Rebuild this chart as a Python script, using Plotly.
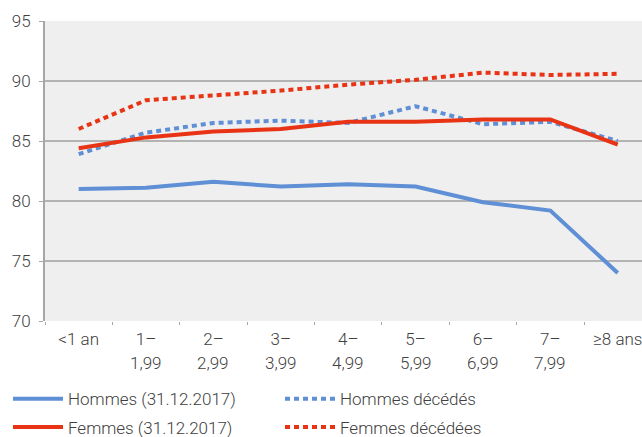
import plotly.graph_objects as go

categories = ["<1 an", "1–1,99", "2–2,99", "3–3,99", "4–4,99", "5–5,99", "6–6,99", "7–7,99", "≥8 ans"]
tick_line1 = ["<1 an", "1–", "2–", "3–", "4–", "5–", "6–", "7–", "≥8 ans"]
tick_line2 = ["", "1,99", "2,99", "3,99", "4,99", "5,99", "6,99", "7,99", ""]

hommes = [81.0, 81.1, 81.6, 81.2, 81.4, 81.2, 79.9, 79.2, 74.0]
femmes = [84.4, 85.3, 85.8, 86.0, 86.6, 86.6, 86.8, 86.8, 84.7]
hommes_dec = [83.9, 85.7, 86.5, 86.7, 86.5, 87.9, 86.4, 86.6, 85.0]
femmes_dec = [86.0, 88.4, 88.8, 89.2, 89.7, 90.1, 90.7, 90.5, 90.6]

BLUE = "#5f8fd5"
RED = "#e83314"
FONT = dict(family="Roboto", size=17, color="#404040", weight=300)

fig = go.Figure()
fig.add_trace(go.Scatter(x=categories, y=hommes, mode="lines", name="Hommes (31.12.2017)",
                         line=dict(color=BLUE, width=4), legend="legend", legendrank=1))
fig.add_trace(go.Scatter(x=categories, y=hommes_dec, mode="lines", name="Hommes décédés",
                         line=dict(color=BLUE, width=4, dash="5px,4px"), legend="legend", legendrank=2))
fig.add_trace(go.Scatter(x=categories, y=femmes_dec, mode="lines", name="Femmes décédées",
                         line=dict(color=RED, width=4, dash="5px,4px"), legend="legend2", legendrank=4))
fig.add_trace(go.Scatter(x=categories, y=femmes, mode="lines", name="Femmes (31.12.2017)",
                         line=dict(color=RED, width=4), legend="legend2", legendrank=3))

for i, t in enumerate(tick_line2):
    if t:
        fig.add_annotation(x=categories[i], y=0, xref="x", yref="paper", yshift=-42,
                           text=t, showarrow=False, yanchor="middle", font=FONT)

leg_common = dict(orientation="h", x=-0.062, xanchor="left", yanchor="middle",
                  entrywidth=207, entrywidthmode="pixels", traceorder="normal",
                  font=FONT, bgcolor="rgba(0,0,0,0)", itemwidth=50)

fig.update_layout(
    width=642, height=437,
    margin=dict(l=45, r=0, t=21, b=116, autoexpand=False),
    paper_bgcolor="white", plot_bgcolor="#efefef",
    font=FONT,
    xaxis=dict(type="category", range=[-0.5, 8.36], tickmode="array", tickvals=categories,
               ticktext=tick_line1, tickson="boundaries", ticks="outside", ticklen=3,
               tickcolor="#a6a6a6", showgrid=False, showline=False, zeroline=False,
               tickfont=FONT, ticklabelstandoff=6),
    yaxis=dict(range=[70, 95], dtick=5, ticks="outside", ticklen=4, tickcolor="#a6a6a6",
               showgrid=True, gridcolor="#b3b3b3", gridwidth=1.5, showline=True,
               linecolor="#a6a6a6", linewidth=2, zeroline=False, tickfont=FONT,
               ticklabelstandoff=5),
    showlegend=True,
    legend=dict(y=-0.261, **leg_common),
    legend2=dict(y=-0.355, **leg_common),
)

fig.write_html("out.html", config={"displayModeBar": False},
               post_script="document.body.style.margin='0px';")
